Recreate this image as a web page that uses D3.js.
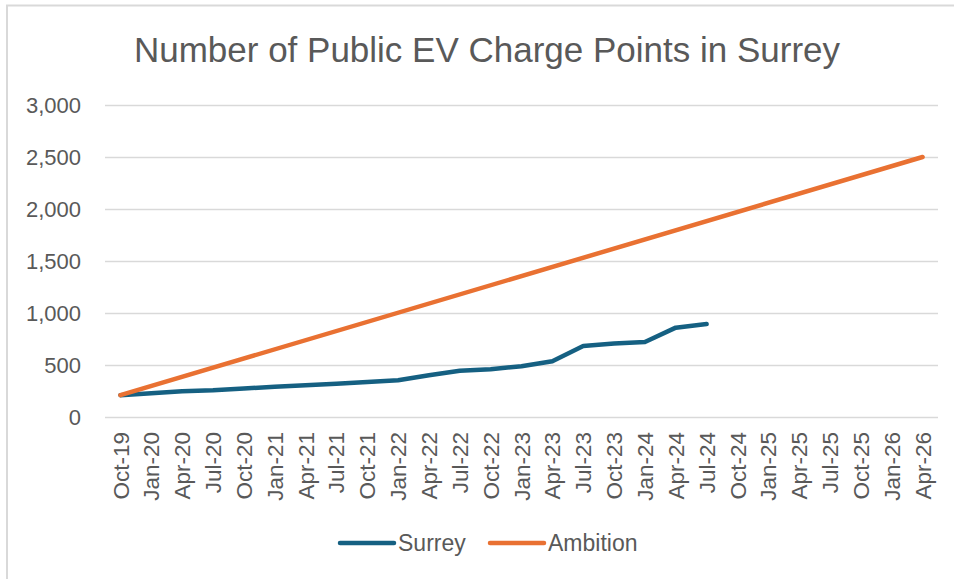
<!DOCTYPE html>
<html>
<head>
<meta charset="utf-8">
<script src="https://cdn.jsdelivr.net/npm/d3@7"></script>
<style>
  body { margin: 0; background: #fff; }
  text { font-family: "Liberation Sans", Arial, sans-serif; fill: #595959; }
</style>
</head>
<body>
<svg id="chart"></svg>
<script>
// quarterly categories on the x axis
var quarters = ["Oct-19", "Jan-20", "Apr-20", "Jul-20", "Oct-20", "Jan-21", "Apr-21", "Jul-21",
    "Oct-21", "Jan-22", "Apr-22", "Jul-22", "Oct-22", "Jan-23", "Apr-23", "Jul-23", "Oct-23",
    "Jan-24", "Apr-24", "Jul-24", "Oct-24", "Jan-25", "Apr-25", "Jul-25", "Oct-25", "Jan-26", "Apr-26"];

// actual charge points (up to Jul-24)
var surreyQuarters = ["Oct-19", "Jan-20", "Apr-20", "Jul-20", "Oct-20", "Jan-21", "Apr-21", "Jul-21",
    "Oct-21", "Jan-22", "Apr-22", "Jul-22", "Oct-22", "Jan-23", "Apr-23", "Jul-23", "Oct-23",
    "Jan-24", "Apr-24", "Jul-24"];
var surreyValues = [210, 228, 248, 258, 275, 290, 305, 320, 337, 354, 402, 444, 460, 488, 536, 683, 706, 721, 859, 894];

// ambition is a straight target line
var ambitionQuarters = ["Oct-19", "Apr-26"];
var ambitionValues = [210, 2500];

var yTicks = [0, 500, 1000, 1500, 2000, 2500, 3000];

var width = 954, height = 579;
var margin = {top: 105, left: 105, right: 16, bottom: 162};
var plotW = width - margin.left - margin.right;
var plotH = height - margin.top - margin.bottom;

var svg = d3.select("#chart")
    .attr("width", width)
    .attr("height", height);

// chart frame (only top and left edges are in view)
svg.append("rect")
    .attr("x", 7)
    .attr("y", 5.5)
    .attr("width", 960)
    .attr("height", 600)
    .attr("fill", "none")
    .attr("stroke", "#d9d9d9")
    .attr("stroke-width", 2);

svg.append("text")
    .attr("x", 487)
    .attr("y", 62)
    .attr("text-anchor", "middle")
    .style("font-size", "35px")
    .text("Number of Public EV Charge Points in Surrey");

var g = svg.append("g")
    .attr("transform", "translate(" + margin.left + "," + margin.top + ")");

var xScale = d3.scaleBand()
    .domain(quarters)
    .range([0, plotW]);

var xPos = function (q) { return xScale(q) + xScale.bandwidth() / 2; };

var yScale = d3.scaleLinear()
    .domain([0, 3000])
    .range([plotH, 0]);

// gridlines + y labels
var yAxis = g.append("g")
    .attr("class", "yAxisG")
    .call(d3.axisLeft(yScale).tickValues(yTicks).tickSize(-plotW).tickPadding(24)
        .tickFormat(d3.format(",")));
yAxis.select(".domain").remove();
yAxis.selectAll("line").attr("stroke", "#d9d9d9").attr("stroke-width", 1.5);
yAxis.selectAll("text").style("font-size", "22px").attr("fill", "#595959");

// x labels, rotated
var xAxis = g.append("g")
    .attr("class", "xAxisG")
    .attr("transform", "translate(0," + plotH + ")")
    .call(d3.axisBottom(xScale).tickSize(0));
xAxis.select(".domain").remove();
xAxis.selectAll("text")
    .style("font-size", "22.5px")
    .attr("fill", "#595959")
    .attr("text-anchor", "end")
    .attr("transform", "rotate(-90)")
    .attr("x", -15)
    .attr("y", 0)
    .attr("dy", "0.36em");

var line = d3.line()
    .x(function (d) { return xPos(d.q); })
    .y(function (d) { return yScale(d.v); });

var surreyData = surreyQuarters.map(function (q, i) { return {q: q, v: surreyValues[i]}; });
var ambitionData = ambitionQuarters.map(function (q, i) { return {q: q, v: ambitionValues[i]}; });

g.append("path")
    .datum(surreyData)
    .attr("fill", "none")
    .attr("stroke", "#156082")
    .attr("stroke-width", 4.5)
    .attr("stroke-linecap", "round")
    .attr("stroke-linejoin", "round")
    .attr("d", line);

g.append("path")
    .datum(ambitionData)
    .attr("fill", "none")
    .attr("stroke", "#E97132")
    .attr("stroke-width", 4.5)
    .attr("stroke-linecap", "round")
    .attr("d", line);

// legend
var legendItems = [
    {name: "Surrey", color: "#156082", x: 340},
    {name: "Ambition", color: "#E97132", x: 490}
];
var legend = svg.append("g").attr("transform", "translate(0,543)");
legendItems.forEach(function (item) {
    legend.append("line")
        .attr("x1", item.x).attr("x2", item.x + 54)
        .attr("y1", 0).attr("y2", 0)
        .attr("stroke", item.color)
        .attr("stroke-width", 4.5)
        .attr("stroke-linecap", "round");
    legend.append("text")
        .attr("x", item.x + 58)
        .attr("y", 0)
        .attr("dy", "0.36em")
        .style("font-size", "23px")
        .text(item.name);
});
</script>
</body>
</html>
